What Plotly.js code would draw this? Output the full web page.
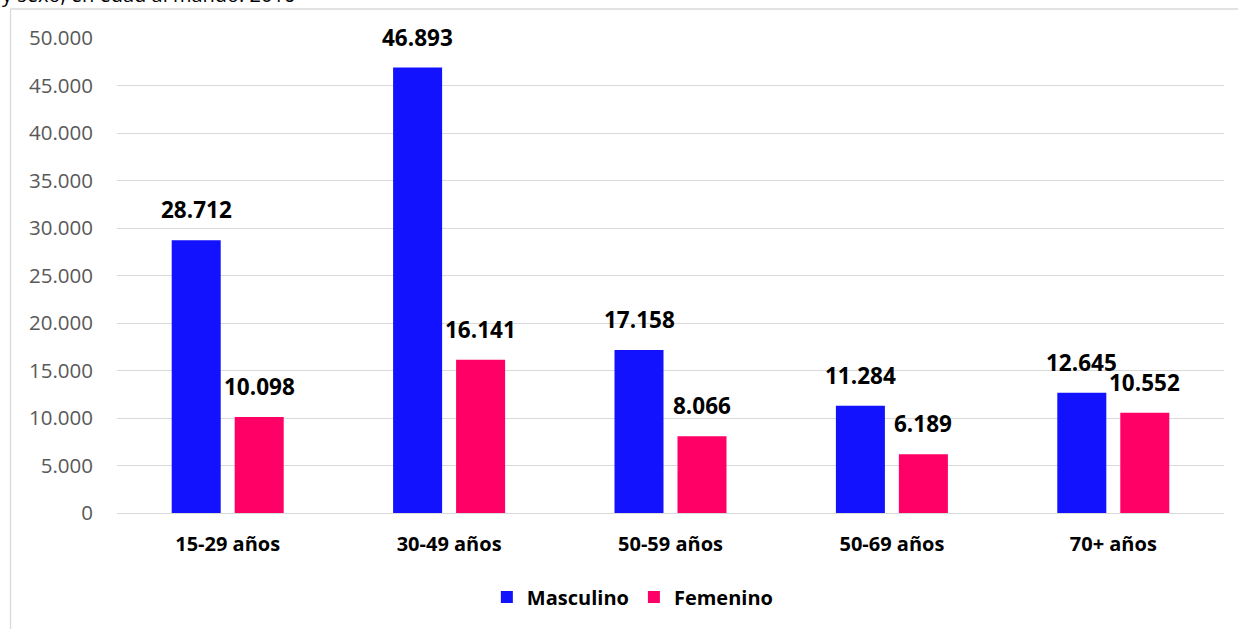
<!DOCTYPE html>
<html>
<head>
<meta charset="utf-8">
<script src="https://cdn.plot.ly/plotly-3.0.1.min.js"></script>
<style>
  html, body { margin: 0; padding: 0; background: #ffffff; overflow: hidden; }
  #chart { width: 1238px; height: 629px; }
</style>
</head>
<body>
<div id="chart"></div>
<script>
// Age groups and population by sex
const ageGroups = ['15-29 años', '30-49 años', '50-59 años', '50-69 años', '70+ años'];
const masculino = [28712, 46893, 17158, 11284, 12645];
const femenino = [10098, 16141, 8066, 6189, 10552];
const yTicks = [0, 5000, 10000, 15000, 20000, 25000, 30000, 35000, 40000, 45000, 50000];

const BLUE = '#1212FF';
const PINK = '#FF0066';
const FONT = '"Open Sans", "Liberation Sans", sans-serif';

const fmt = v => v.toString().replace(/\B(?=(\d{3})+(?!\d))/g, '.');

const traces = [
  { type: 'bar', name: 'Masculino', x: ageGroups, y: masculino, marker: { color: BLUE }, hoverinfo: 'skip' },
  { type: 'bar', name: 'Femenino', x: ageGroups, y: femenino, marker: { color: PINK }, hoverinfo: 'skip' }
];

// Value labels above each bar, offset to the bar's slot within its group
const valueLabels = [];
const slotShift = 31.5;
[[masculino, -slotShift], [femenino, slotShift]].forEach(([vals, shift]) => {
  vals.forEach((v, i) => {
    valueLabels.push({
      x: ageGroups[i], y: v, xref: 'x', yref: 'y',
      text: fmt(v), showarrow: false, xshift: shift, yshift: 13,
      yanchor: 'bottom', xanchor: 'center',
      font: { family: FONT, size: 22.5, color: '#000000', weight: 'bold' }
    });
  });
});

// Heading running off the top edge
valueLabels.push({
  x: -0.1057, y: 1.091, xref: 'paper', yref: 'paper',
  xanchor: 'left', yanchor: 'middle', showarrow: false,
  text: 'y sexo, en edad al mando. 2016',
  font: { family: FONT, size: 20, color: '#000000' }
});

const borderColor = '#d9d9d9';
const layout = {
  width: 1238, height: 629,
  margin: { l: 117, r: 14, t: 38, b: 116, pad: 0 },
  paper_bgcolor: '#ffffff', plot_bgcolor: '#ffffff',
  separators: ',.',
  barmode: 'group', bargap: 0.431, bargroupgap: 0.222,
  showlegend: true,
  legend: {
    orientation: 'h', x: 0.466, xanchor: 'center', y: -0.177, yanchor: 'middle',
    font: { family: FONT, size: 20, color: '#000000', weight: 'bold' },
    traceorder: 'normal', itemclick: false, itemdoubleclick: false
  },
  xaxis: {
    type: 'category', showgrid: false, zeroline: false,
    showline: false, ticks: '', ticklabelstandoff: 17,
    tickfont: { family: FONT, size: 20, color: '#000000', weight: 'bold' },
    fixedrange: true
  },
  yaxis: {
    range: [0, 50000], tickvals: yTicks, tickformat: ',d',
    showgrid: true, gridcolor: borderColor, gridwidth: 1,
    zeroline: true, zerolinecolor: borderColor, zerolinewidth: 1,
    showline: false, ticks: '', ticklabelstandoff: 23,
    tickfont: { family: FONT, size: 20.5, color: '#595959' },
    fixedrange: true
  },
  annotations: valueLabels,
  shapes: [
    { type: 'line', xref: 'paper', yref: 'paper', x0: -0.0962, x1: -0.0962, y0: 1.0611, y1: -0.4, line: { color: borderColor, width: 1.3 } },
    { type: 'line', xref: 'paper', yref: 'paper', x0: -0.0962, x1: 1.1, y0: 1.0611, y1: 1.0611, line: { color: borderColor, width: 1.3 } }
  ]
};

Plotly.newPlot('chart', traces, layout, { displayModeBar: false, staticPlot: true });
</script>
</body>
</html>
